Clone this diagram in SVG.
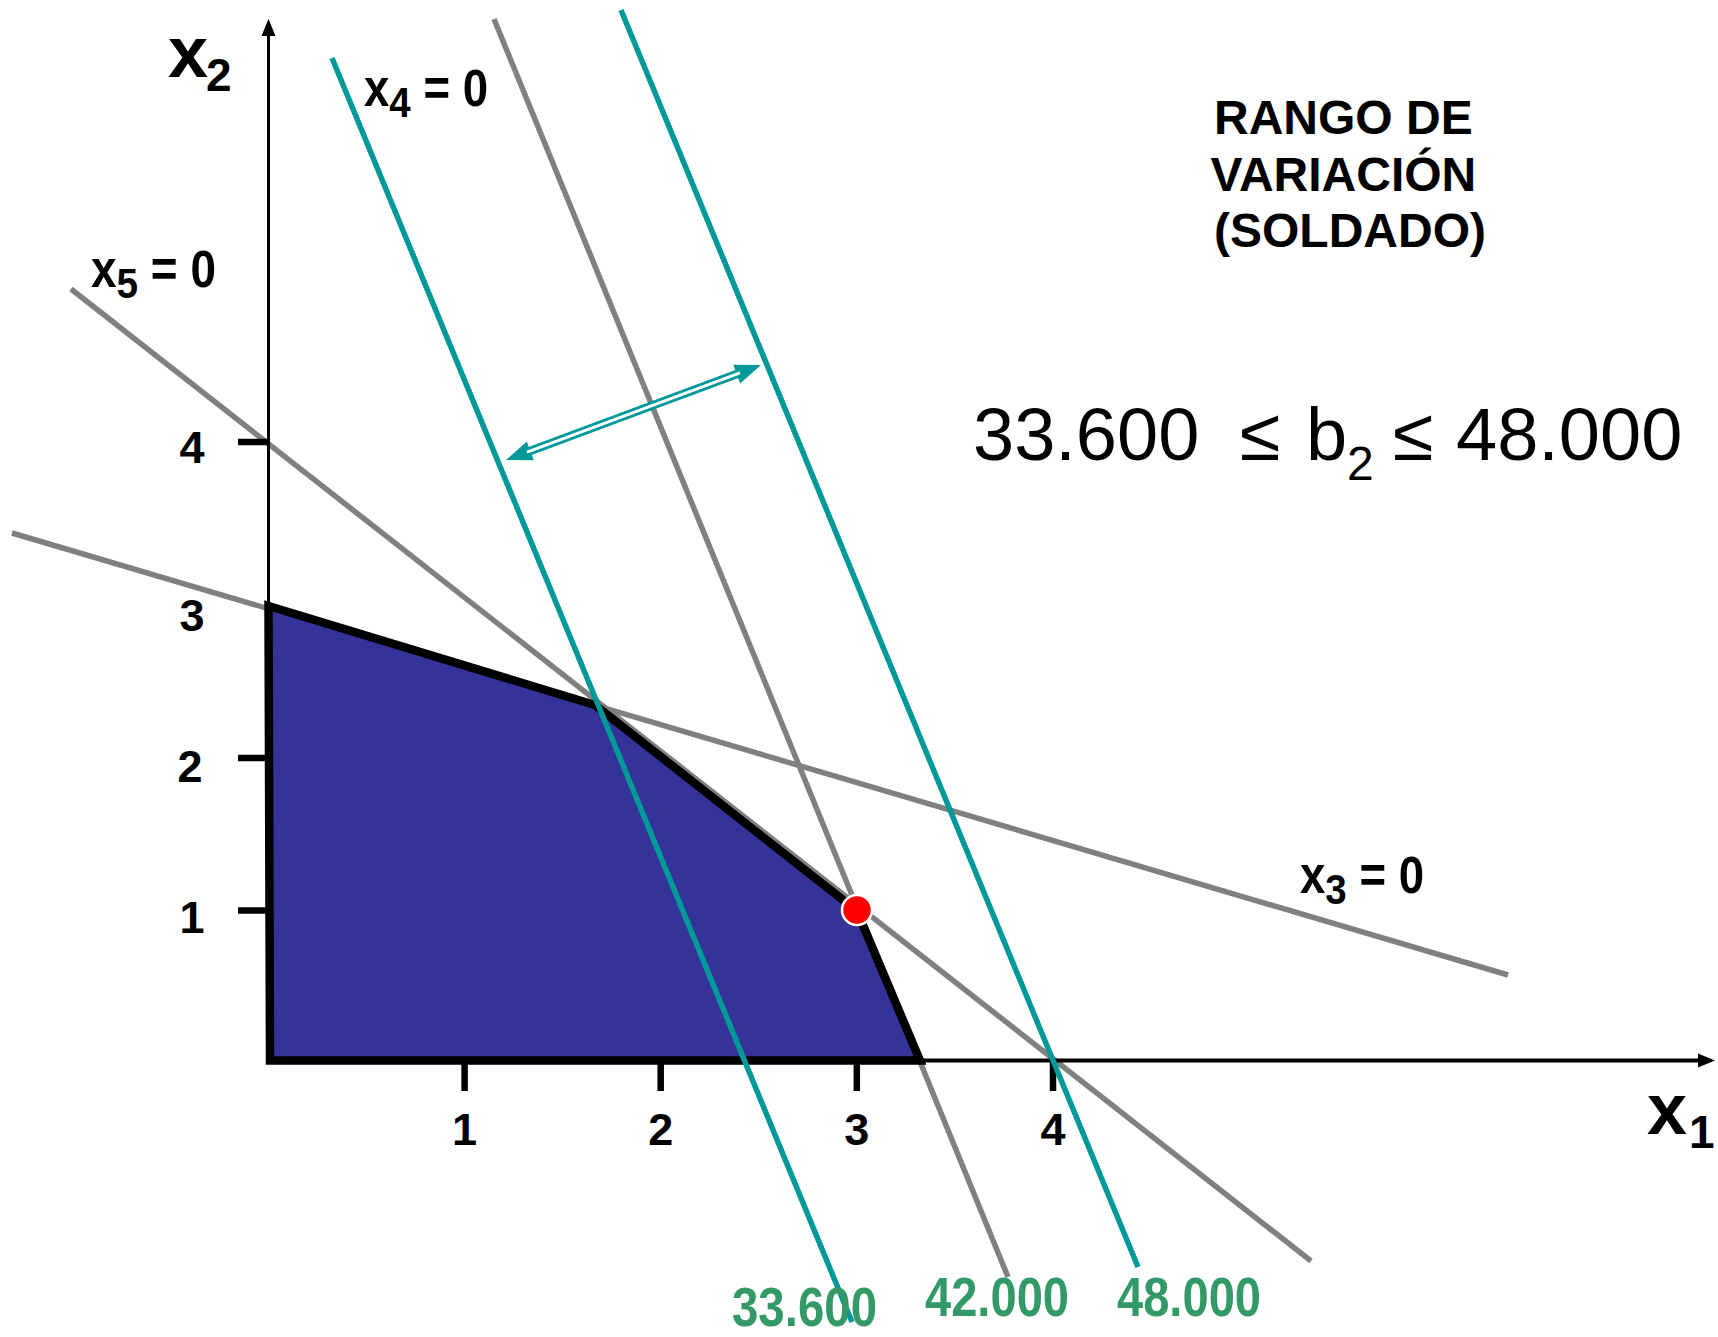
<svg xmlns="http://www.w3.org/2000/svg" width="1718" height="1337" viewBox="0 0 1718 1337">
<style>
  text { font-family: "Liberation Sans", Arial, sans-serif; }
  .b { font-weight: bold; fill: #000; }
  .gray { stroke: #808080; stroke-width: 5.5; fill: none; }
  .teal { stroke: #009999; stroke-width: 5.5; fill: none; }
  .tick { stroke: #000; stroke-width: 6.5; }
  .num { font-weight: bold; font-size: 45px; text-anchor: middle; }
  .green { font-weight: bold; font-size: 56px; fill: #339966; }
  .lab { font-weight: bold; font-size: 51px; }
</style>
<defs>
  <marker id="axhead" markerUnits="userSpaceOnUse" markerWidth="20" markerHeight="20" refX="0" refY="0" viewBox="-1 -10 20 20" orient="auto" overflow="visible">
    <path d="M-2,-7 L15,0 L-2,7 z" fill="#000"/>
  </marker>
  <marker id="thead" markerUnits="userSpaceOnUse" markerWidth="30" markerHeight="24" refX="0" refY="0" viewBox="0 -12 30 24" orient="auto-start-reverse" overflow="visible">
    <path d="M-1,-10 L25,0 L-1,10 z" fill="#009999"/>
  </marker>
</defs>

<g id="constraint-lines">
  <line id="x5-line" class="gray" x1="71" y1="289" x2="1311" y2="1261"/>
  <line id="x3-line" class="gray" x1="12" y1="533" x2="1508" y2="975"/>
  <line id="z-42000" class="gray" x1="494" y1="19" x2="1008" y2="1277"/>
</g>

<g id="feasible-region">
  <polygon points="268.5,606 595,705 857,911 920,1060.6 270,1060.6" fill="#333399" stroke="#000" stroke-width="8.5" stroke-linejoin="miter"/>
</g>

<g id="axes">
  <line x1="268.5" y1="1062" x2="268.5" y2="34" stroke="#000" stroke-width="3" marker-end="url(#axhead)"/>
  <line x1="266" y1="1060.6" x2="1700" y2="1060.6" stroke="#000" stroke-width="4" marker-end="url(#axhead)"/>
  <line class="tick" x1="464.6" y1="1060" x2="464.6" y2="1091"/>
  <line class="tick" x1="660.7" y1="1060" x2="660.7" y2="1091"/>
  <line class="tick" x1="856.8" y1="1060" x2="856.8" y2="1091"/>
  <line class="tick" x1="1053" y1="1060" x2="1053" y2="1091"/>
  <line class="tick" x1="238" y1="442" x2="268" y2="442"/>
  <line class="tick" x1="238" y1="758" x2="268" y2="758"/>
  <line class="tick" x1="238" y1="910.5" x2="268" y2="910.5"/>
  <text class="num" x="464.6" y="1145">1</text>
  <text class="num" x="660.7" y="1145">2</text>
  <text class="num" x="856.8" y="1145">3</text>
  <text class="num" x="1053" y="1145">4</text>
  <text class="num" x="192" y="463">4</text>
  <text class="num" x="192" y="631">3</text>
  <text class="num" x="190" y="782">2</text>
  <text class="num" x="192" y="933">1</text>
  <text class="b" font-size="72" x="168" y="77">x<tspan x="206" y="91" font-size="46">2</tspan></text>
  <text class="b" font-size="72" x="1647" y="1134">x<tspan x="1689" y="1148" font-size="46">1</tspan></text>
</g>

<g id="isoprofit-lines">
  <line id="z-33600" class="teal" x1="332" y1="58" x2="852" y2="1322"/>
  <line id="z-48000" class="teal" x1="621" y1="10" x2="1138" y2="1267"/>
</g>

<g id="range-arrow">
  <line x1="529.4" y1="451.3" x2="737.6" y2="373.7" stroke="#009999" stroke-width="8.5" marker-start="url(#thead)" marker-end="url(#thead)"/>
  <line x1="527" y1="452.2" x2="740" y2="372.8" stroke="#fff" stroke-width="3"/>
</g>

<g id="optimum">
  <circle cx="857" cy="910" r="15" fill="#ff0000" stroke="#fff" stroke-width="2.5"/>
</g>

<g id="line-labels">
  <text class="lab" x="364" y="106" textLength="124" lengthAdjust="spacingAndGlyphs">x<tspan dy="11" font-size="43">4</tspan><tspan dy="-11"> = 0</tspan></text>
  <text class="lab" x="91" y="287" textLength="125" lengthAdjust="spacingAndGlyphs">x<tspan dy="11" font-size="43">5</tspan><tspan dy="-11"> = 0</tspan></text>
  <text class="lab" x="1300" y="893" textLength="124" lengthAdjust="spacingAndGlyphs">x<tspan dy="11" font-size="43">3</tspan><tspan dy="-11"> = 0</tspan></text>
  <text class="green" x="732" y="1326" textLength="145" lengthAdjust="spacingAndGlyphs">33.600</text>
  <text class="green" x="925" y="1316" textLength="144" lengthAdjust="spacingAndGlyphs">42.000</text>
  <text class="green" x="1117" y="1316" textLength="144" lengthAdjust="spacingAndGlyphs">48.000</text>
</g>

<g id="title">
  <text class="b" font-size="48" text-anchor="middle">
    <tspan x="1350" y="134">RANGO DE</tspan>
    <tspan x="1350" y="191">VARIACIÓN</tspan>
    <tspan x="1350" y="247">(SOLDADO)</tspan>
  </text>
</g>

<g id="range">
  <text font-size="74" fill="#000"><tspan x="973" y="460">33.600</tspan><tspan x="1240" y="460">≤</tspan><tspan x="1306" y="460">b</tspan><tspan x="1347" y="480" font-size="48">2</tspan><tspan x="1393" y="460">≤</tspan><tspan x="1456" y="460">48.000</tspan></text>
</g>
</svg>
